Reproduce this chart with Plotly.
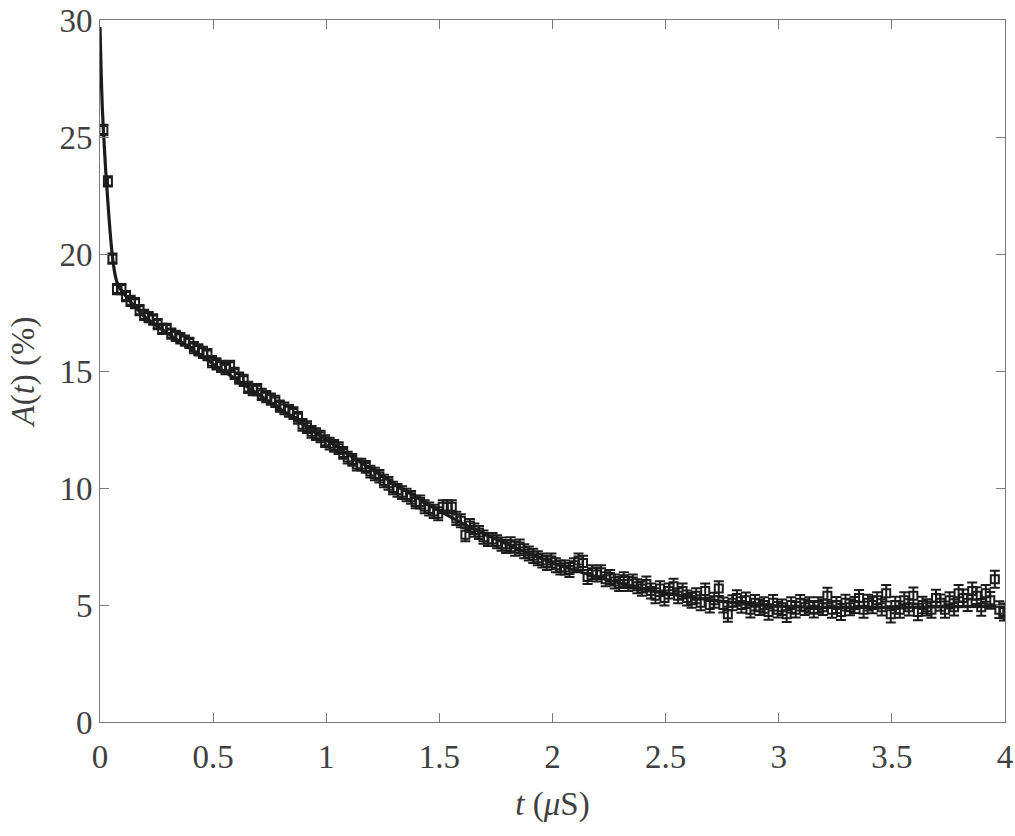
import plotly.graph_objects as go

# ---- data ----
T_START = 0.015
T_STEP = 0.02

A_VALUES = [
    25.3, 23.1, 19.8, 18.5, 18.5, 18.2, 18.0, 17.9, 17.6, 17.4,
    17.3, 17.2, 17.0, 16.8, 16.8, 16.6, 16.5, 16.4, 16.3, 16.2,
    16.0, 15.9, 15.8, 15.7, 15.4, 15.3, 15.2, 15.1, 15.2, 14.9,
    14.7, 14.6, 14.3, 14.2, 14.2, 14.0, 13.9, 13.8, 13.7, 13.5,
    13.4, 13.3, 13.2, 13.0, 12.7, 12.6, 12.4, 12.3, 12.2, 12.0,
    11.9, 11.8, 11.7, 11.5, 11.3, 11.2, 11.0, 11.0, 10.9, 10.7,
    10.6, 10.5, 10.3, 10.2, 10.0, 9.9, 9.8, 9.7, 9.6, 9.4,
    9.4, 9.2, 9.1, 9.0, 8.9, 9.2, 9.2, 9.2, 8.7, 8.6,
    8.0, 8.4, 8.2, 8.1, 7.9, 7.8, 7.8, 7.7, 7.6, 7.5,
    7.6, 7.4, 7.5, 7.3, 7.2, 7.1, 7.0, 6.9, 6.8, 6.9,
    6.7, 6.6, 6.6, 6.5, 6.7, 6.9, 6.8, 6.2, 6.4, 6.3,
    6.4, 6.1, 6.2, 6.0, 5.9, 6.1, 5.9, 6.0, 5.8, 5.7,
    5.9, 5.6, 5.4, 5.7, 5.3, 5.6, 5.8, 5.4, 5.6, 5.3,
    5.2, 5.4, 5.1, 5.6, 5.0, 5.2, 5.7, 5.0, 4.6, 5.1,
    5.3, 5.0, 5.2, 4.8, 5.1, 4.9, 5.0, 4.7, 5.1, 4.8,
    4.9, 4.6, 5.0, 4.8, 5.1, 4.9, 5.0, 4.8, 5.0, 4.9,
    5.4, 4.8, 5.0, 4.7, 5.1, 4.9, 5.0, 5.3, 4.8, 5.1,
    5.0, 5.2, 4.9, 5.5, 4.6, 5.0, 4.8, 5.2, 4.9, 5.4,
    4.7, 5.0, 4.9, 4.8, 5.3, 5.1, 4.8, 5.2, 4.9, 5.5,
    5.3, 5.1, 5.6, 5.4, 4.9, 5.5, 5.2, 6.1, 4.8, 4.7,
]

# error bar half-height per block of 10 points
ERR_BY_BLOCK = [0.22, 0.22, 0.24, 0.24, 0.25, 0.25, 0.27, 0.28, 0.28, 0.3,
                0.3, 0.3, 0.32, 0.32, 0.33, 0.33, 0.34, 0.35, 0.35, 0.36]

FIT_T = [0, 0.005, 0.01, 0.015, 0.025, 0.035, 0.045, 0.055, 0.065, 0.075,
         0.09, 0.11, 0.15, 0.2, 0.3, 0.4, 0.5, 0.6, 0.7, 0.8, 0.9, 1.0,
         1.2, 1.4, 1.6, 1.8, 2.0, 2.2, 2.4, 2.6, 2.8, 3.0, 3.2, 3.5, 4.0]
FIT_A = [29.7, 27.8, 26.3, 25.3, 23.6, 22.2, 20.9, 19.9, 19.2, 18.8,
         18.5, 18.25, 17.8, 17.3, 16.6, 15.95, 15.3, 14.65, 14.0, 13.35, 12.7, 12.05,
         10.8, 9.6, 8.5, 7.6, 6.8, 6.2, 5.7, 5.35, 5.1, 4.95, 4.9, 4.9, 4.95]

X_TICKS = [0, 0.5, 1, 1.5, 2, 2.5, 3, 3.5, 4]
X_TICK_TEXT = ["0", "0.5", "1", "1.5", "2", "2.5", "3", "3.5", "4"]
Y_TICKS = [0, 5, 10, 15, 20, 25, 30]

# ---- build ----
t_vals = [T_START + T_STEP * i for i in range(len(A_VALUES))]
errs = [ERR_BY_BLOCK[i // 10] for i in range(len(A_VALUES))]

DARK = "#1c1c1c"
GRAY_AX = "#7a7a7a"
TXT = "#404040"
FONT = "'Liberation Serif', 'Times New Roman', Times, serif"

fig = go.Figure()
fig.add_trace(go.Scatter(
    x=t_vals, y=A_VALUES, mode="markers",
    marker=dict(symbol="square-open", size=8, color=DARK, line=dict(width=2, color=DARK)),
    error_y=dict(type="data", array=errs, visible=True, color=DARK, thickness=2, width=5),
    showlegend=False,
))
fig.add_trace(go.Scatter(
    x=FIT_T, y=FIT_A, mode="lines", line=dict(color=DARK, width=3.2, shape="spline", smoothing=0.6),
    showlegend=False,
))

axis_common = dict(
    showline=True, linecolor=GRAY_AX, linewidth=1, mirror="allticks",
    ticks="inside", ticklen=9, tickwidth=1, tickcolor=GRAY_AX,
    showgrid=False, zeroline=False, automargin=False,
    tickfont=dict(family=FONT, size=33, color=TXT),
)

fig.update_layout(
    width=1015, height=836,
    margin=dict(l=100, r=10, t=20, b=114),
    paper_bgcolor="white", plot_bgcolor="white",
    font=dict(family=FONT, color=TXT),
    xaxis=dict(range=[0, 4], tickvals=X_TICKS, ticktext=X_TICK_TEXT, ticklabelstandoff=5,
               title=dict(text="<i>t</i> (<i>μ</i>S)", font=dict(family=FONT, size=33, color=TXT), standoff=18),
               **axis_common),
    yaxis=dict(range=[0, 30], tickvals=Y_TICKS,
               title=dict(text="<i>A</i>(<i>t</i>) (%)", font=dict(family=FONT, size=33, color=TXT), standoff=14),
               **axis_common),
)

fig.write_html("out.html")
